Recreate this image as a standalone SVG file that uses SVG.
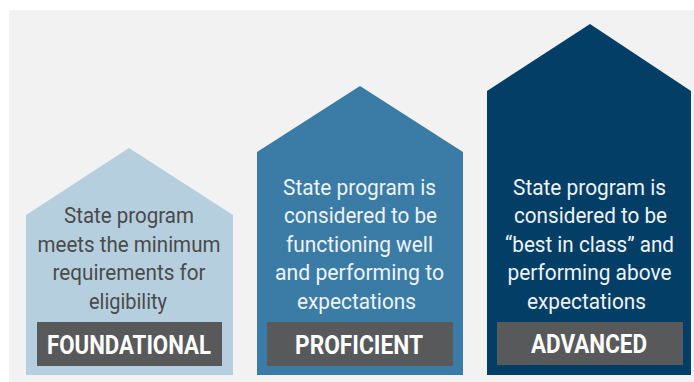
<svg xmlns="http://www.w3.org/2000/svg" width="694" height="382" viewBox="0 0 694 382">
<style>
.desc{font-family:"Liberation Sans Narrow","Roboto","Liberation Sans",sans-serif;font-size:22px;text-anchor:middle}
.dark{fill:#4a4a4a}
.light{fill:#eef3f7}
.lbl{font-family:"Liberation Sans Narrow","Roboto","Liberation Sans",sans-serif;font-size:25px;font-weight:bold;fill:#ffffff;text-anchor:middle}
.box{fill:#58595b}
</style>
<rect x="9" y="10" width="685" height="372" fill="#f2f2f2"/>
<g id="foundational">
<polygon points="26,215 129,148 233,215 233,375 26,375" fill="#b6cfde"/>
<text class="desc dark" x="129" y="223" textLength="130" lengthAdjust="spacingAndGlyphs">State program</text>
<text class="desc dark" x="129" y="251.5" textLength="183" lengthAdjust="spacingAndGlyphs">meets the minimum</text>
<text class="desc dark" x="129" y="280" textLength="153" lengthAdjust="spacingAndGlyphs">requirements for</text>
<text class="desc dark" x="128" y="308.5" textLength="78" lengthAdjust="spacingAndGlyphs">eligibility</text>
<rect class="box" x="37" y="322" width="185" height="44"/>
<text class="lbl" x="129" y="354" textLength="164" lengthAdjust="spacingAndGlyphs">FOUNDATIONAL</text>
</g>
<g id="proficient">
<polygon points="257,152 360,86 463,152 463,375 257,375" fill="#3b7ca6"/>
<text class="desc light" x="359.5" y="194.5" textLength="153" lengthAdjust="spacingAndGlyphs">State program  is</text>
<text class="desc light" x="360.5" y="223" textLength="153" lengthAdjust="spacingAndGlyphs">considered to be</text>
<text class="desc light" x="359.5" y="251.5" textLength="147" lengthAdjust="spacingAndGlyphs">functioning well</text>
<text class="desc light" x="359.5" y="280" textLength="169" lengthAdjust="spacingAndGlyphs">and performing to</text>
<text class="desc light" x="356.5" y="308.5" textLength="119" lengthAdjust="spacingAndGlyphs">expectations</text>
<rect class="box" x="267" y="322" width="186" height="44"/>
<text class="lbl" x="359" y="353.5" textLength="128" lengthAdjust="spacingAndGlyphs">PROFICIENT</text>
</g>
<g id="advanced">
<polygon points="487,91 590,24 691,91 691,375 487,375" fill="#023e66"/>
<text class="desc light" x="589.5" y="194.5" textLength="153" lengthAdjust="spacingAndGlyphs">State program  is</text>
<text class="desc light" x="590.5" y="223" textLength="153" lengthAdjust="spacingAndGlyphs">considered to be</text>
<text class="desc light" x="589.5" y="251.5" textLength="169" lengthAdjust="spacingAndGlyphs">“best in class” and</text>
<text class="desc light" x="589.5" y="280" textLength="164" lengthAdjust="spacingAndGlyphs">performing above</text>
<text class="desc light" x="586.5" y="308.5" textLength="119" lengthAdjust="spacingAndGlyphs">expectations</text>
<rect class="box" x="497" y="322" width="186" height="43"/>
<text class="lbl" x="589" y="353" textLength="116" lengthAdjust="spacingAndGlyphs">ADVANCED</text>
</g>
<g id="connectors"/>
</svg>
